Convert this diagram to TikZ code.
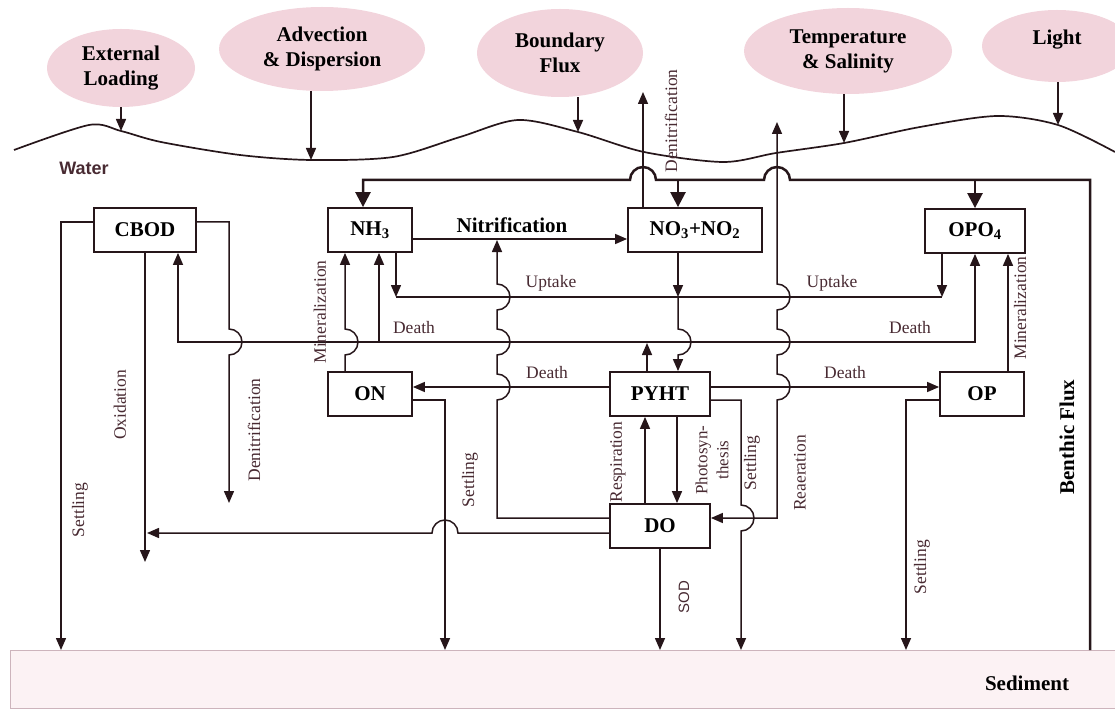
\documentclass[tikz,border=0pt]{standalone}
\usepackage{fontspec}
\setmainfont{Liberation Serif}
\newfontfamily\sansf{Liberation Sans}
\usetikzlibrary{arrows.meta,shapes.geometric}
\definecolor{lc}{RGB}{38,22,26}
\definecolor{tc}{RGB}{72,42,50}
\definecolor{pk}{RGB}{242,212,220}
\definecolor{sedf}{RGB}{252,242,244}
\definecolor{sedb}{RGB}{205,180,188}
\tikzset{
  ln/.style={draw=lc, line width=1.5pt},
  tln/.style={draw=lc, line width=2.5pt},
  arr/.style={-{Triangle[length=12pt,width=10pt]}},
  dbl/.style={{Triangle[length=12pt,width=10pt]}-{Triangle[length=12pt,width=10pt]}},
  tarr/.style={-{Triangle[length=15pt,width=15pt]}},
  box/.style={draw=lc, line width=1.8pt, fill=white, inner sep=0pt, minimum height=44pt, font=\bfseries\fontsize{21}{21}\selectfont, text=black},
  lab/.style={font=\fontsize{17.5}{17.5}\selectfont, text=tc, inner sep=0pt},
  vlab/.style={lab, rotate=90},
  blob/.style={ellipse, fill=pk, inner sep=0pt, align=center, font=\bfseries\fontsize{21}{25}\selectfont, text=black}
}
\begin{document}
\begin{tikzpicture}[x=1pt,y=-1pt]
\useasboundingbox (0,0) rectangle (1115,711);
% sediment
\node[draw=sedb, fill=sedf, line width=0.8pt, minimum width=1110pt, minimum height=58pt, inner sep=0pt, anchor=north west] (sed) at (10,650) {};
\node[font=\bfseries\fontsize{21}{21}\selectfont, text=black] (sedl) at (1027,683) {Sediment};
% ellipses
\node[blob, minimum width=148pt, minimum height=78pt] (ext) at (121,68) {External\\Loading};
\node[blob, minimum width=206pt, minimum height=84pt] (adv) at (322,49) {Advection\\\& Dispersion};
\node[blob, minimum width=166pt, minimum height=88pt] (bnd) at (560,53) {Boundary\\Flux};
\node[blob, minimum width=208pt, minimum height=86pt] (tmp) at (848,51) {Temperature\\\& Salinity};
\node[blob, minimum width=150pt, minimum height=72pt] (lgt) at (1057,46) {};
\node[font=\bfseries\fontsize{21}{21}\selectfont, text=black] (lgtt) at (1057,40) {Light};
% wave
\coordinate (wExt) at (121,131);
\coordinate (wAdv) at (311,160);
\coordinate (wBnd) at (578,132);
\coordinate (wTmp) at (844,143);
\coordinate (wLgt) at (1058,125);
\draw[ln, line width=1.7pt] plot[smooth, tension=0.5] coordinates {(14,150) (89,125) (121,131) (161,142) (240,155) (311,160) (393,157) (460,137) (518,120) (578,132) (644,152) (723,162) (776,153) (844,143) (920,127) (997,116) (1058,125) (1115,152)};
\draw[ln, arr] (ext.south) -- (wExt);
\draw[ln, arr] (adv.south -| wAdv) -- (wAdv);
\draw[ln, arr] (bnd.south -| wBnd) -- (wBnd);
\draw[ln, arr] (tmp.south -| wTmp) -- (wTmp);
\draw[ln, arr] (lgt.south -| wLgt) -- (wLgt);
\node[font=\sansf\bfseries\fontsize{18}{18}\selectfont, text=tc] (wat) at (84,168) {Water};
% boxes
\node[box, minimum width=102pt] (CBOD) at (145,230) {CBOD};
\node[box, minimum width=84pt] (NH3) at (370,230) {NH\textsubscript{3}};
\node[box, minimum width=134pt] (NO3) at (695,230) {NO\textsubscript{3}+NO\textsubscript{2}};
\node[box, minimum width=100pt] (OPO4) at (975,231) {OPO\textsubscript{4}};
\node[box, minimum width=84pt] (ON) at (370,394) {ON};
\node[box, minimum width=100pt] (PYHT) at (660,394) {PYHT};
\node[box, minimum width=84pt] (OP) at (982,394) {OP};
\node[box, minimum width=100pt] (DO) at (660,526) {DO};
% helper coordinates
\foreach \xx in {61,178,229,345,363,379,396,445,497,643,645,647,677,678,741,777,906,942,975,1008,1090}{\coordinate (c\xx) at (\xx,0);}
\foreach \yy in {222,239,297,342,387,400,518,533}{\coordinate (r\yy) at (0,\yy);}
% top line and benthic flux
\draw[tln, tarr] (sed.north -| c1090) -- (1090,180) -- (790,180) arc[start angle=0,end angle=-180,radius=13] -- (656,180) arc[start angle=0,end angle=-180,radius=13] -- (363,180) -- (NH3.north -| c363);
\draw[tln, tarr] (678,180) -- (NO3.north -| c678);
\draw[tln, tarr] (975,180) -- (OPO4.north);
% denitrification up
\draw[ln, arr] (NO3.north -| c643) -- (643,92);
% reaeration
\draw[ln, dbl] (777,122) -- (777,284) arc[start angle=-90,end angle=90,radius=13] -- (777,329) arc[start angle=-90,end angle=90,radius=13] -- (777,374) arc[start angle=-90,end angle=90,radius=13] -- (777,518) -- (DO.east |- r518);
% CBOD settling
\draw[ln, arr] (CBOD.west |- r222) -- (61,222) -- (sed.north -| c61);
% CBOD denitrification
\draw[ln, arr] (CBOD.east |- r222) -- (229,222) -- (229,329) arc[start angle=-90,end angle=90,radius=13] -- (229,503);
% oxidation
\draw[ln, arr] (CBOD.south) -- (145,562);
\draw[ln, arr] (DO.west |- r533) -- (458,533) arc[start angle=0,end angle=-180,radius=13] -- (147,533);
% death distribution
\draw[ln, dbl] (CBOD.south -| c178) -- (178,342) -- (975,342) -- (OPO4.south);
\draw[ln, arr] (PYHT.north -| c647) -- (647,343);
\draw[ln, arr] (379,342) -- (NH3.south -| c379);
% mineralization ON -> NH3
\draw[ln, arr] (ON.north -| c345) -- (345,355) arc[start angle=90,end angle=-90,radius=13] -- (NH3.south -| c345);
% uptake
\draw[ln] (396,297) -- (942,297);
\draw[ln, arr] (NH3.south -| c396) -- (396,297);
\draw[ln, arr] (OPO4.south -| c942) -- (942,297);
\draw[ln, arr] (NO3.south -| c678) -- (678,297);
\draw[ln, arr] (678,297) -- (678,329) arc[start angle=-90,end angle=90,radius=13] -- (PYHT.north -| c678);
% nitrification
\draw[ln, arr] (NH3.east |- r239) -- (NO3.west |- r239);
\draw[ln, arr] (DO.west |- r518) -- (497,518) -- (497,400) arc[start angle=90,end angle=-90,radius=13] -- (497,355) arc[start angle=90,end angle=-90,radius=13] -- (497,310) arc[start angle=90,end angle=-90,radius=13] -- (497,240);
% deaths
\draw[ln, arr] (PYHT.west |- r387) -- (ON.east |- r387);
\draw[ln, arr] (PYHT.east |- r387) -- (OP.west |- r387);
% settling
\draw[ln, arr] (ON.east |- r400) -- (445,400) -- (sed.north -| c445);
\draw[ln, arr] (PYHT.east |- r400) -- (741,400) -- (741,505) arc[start angle=-90,end angle=90,radius=13] -- (sed.north -| c741);
\draw[ln, arr] (OP.west |- r400) -- (906,400) -- (sed.north -| c906);
% respiration / photosynthesis
\draw[ln, arr] (DO.north -| c645) -- (PYHT.south -| c645);
\draw[ln, arr] (PYHT.south -| c677) -- (DO.north -| c677);
% SOD
\draw[ln, arr] (DO.south) -- (sed.north -| DO.south);
% OP mineralization
\draw[ln, arr] (OP.north -| c1008) -- (OPO4.south -| c1008);
% labels
\node[lab, font=\bfseries\fontsize{21}{21}\selectfont, text=black] (lnit) at (512,225) {Nitrification};
\node[lab] (lup1) at (551,283) {Uptake};
\node[lab] (lup2) at (832,283) {Uptake};
\node[lab] (ld1) at (414,328) {Death};
\node[lab] (ld2) at (910,328) {Death};
\node[lab] (ld3) at (547,373) {Death};
\node[lab] (ld4) at (845,373) {Death};
\node[vlab] (lmin1) at (320,312) {Mineralization};
\node[vlab] (lmin2) at (1020,308) {Mineralization};
\node[vlab] (lden1) at (671,121) {Denitrification};
\node[vlab] (lden2) at (254,430) {Denitrification};
\node[vlab] (lox) at (120,405) {Oxidation};
\node[vlab] (ls1) at (80,510) {Settling};
\node[vlab] (ls2) at (470,480) {Settling};
\node[vlab] (ls3) at (752,463) {Settling};
\node[vlab] (ls4) at (922,567) {Settling};
\node[vlab] (lres) at (618,462) {Respiration};
\node[vlab, align=center, font=\fontsize{17}{21}\selectfont] (lpho) at (712,460) {Photosyn-\\thesis};
\node[vlab] (lrea) at (800,473) {Reaeration};
\node[vlab, font=\sansf\fontsize{15}{15}\selectfont] (lsod) at (684,597) {SOD};
\node[vlab, font=\bfseries\fontsize{21}{21}\selectfont, text=black] (lben) at (1067,437) {Benthic Flux};
\end{tikzpicture}
\end{document}
